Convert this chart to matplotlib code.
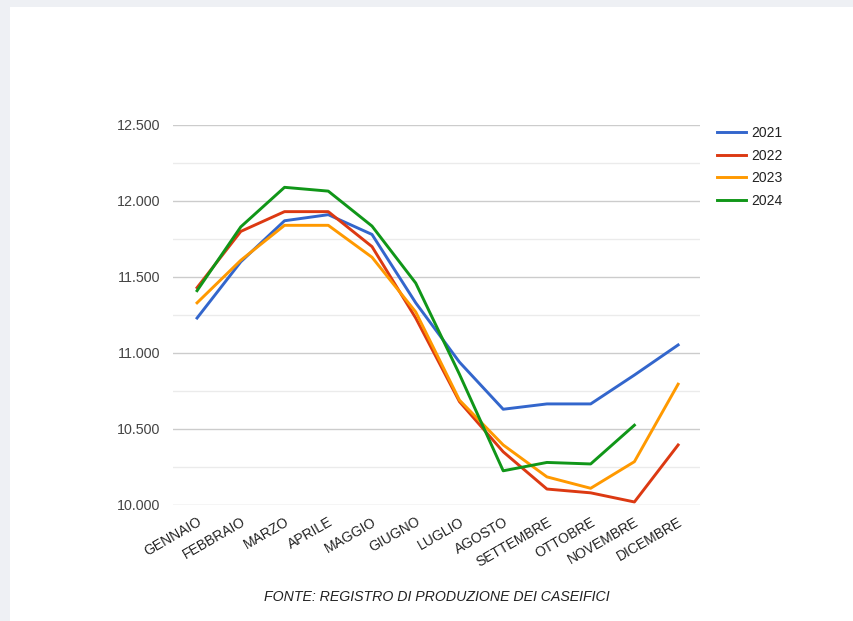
import matplotlib.pyplot as plt
from matplotlib.ticker import FuncFormatter, MultipleLocator
import numpy as np

months = ["GENNAIO", "FEBBRAIO", "MARZO", "APRILE", "MAGGIO", "GIUGNO",
          "LUGLIO", "AGOSTO", "SETTEMBRE", "OTTOBRE", "NOVEMBRE", "DICEMBRE"]

y2021 = [11230, 11600, 11870, 11910, 11780, 11330, 10940, 10630, 10665, 10665, 10855, 11053]
y2022 = [11430, 11800, 11930, 11930, 11700, 11230, 10680, 10350, 10105, 10080, 10020, 10395]
y2023 = [11330, 11610, 11840, 11840, 11630, 11270, 10690, 10395, 10185, 10110, 10285, 10795]
y2024 = [11410, 11830, 12090, 12065, 11835, 11460, 10860, 10225, 10280, 10270, 10525, np.nan]

series = {"2021": y2021, "2022": y2022, "2023": y2023, "2024": y2024}
colors = {"2021": "#3366cc", "2022": "#dc3912", "2023": "#ff9900", "2024": "#109618"}

plt.rcParams["font.family"] = ["Liberation Sans", "DejaVu Sans"]

fig = plt.figure(figsize=(8.54, 6.21), dpi=100)
fig.patch.set_facecolor("#eef0f4")
# white card behind everything
card = plt.Rectangle((10 / 854, 0), 1, 1 - 7 / 621, transform=fig.transFigure,
                     facecolor="white", edgecolor="none", zorder=-10)
fig.patches.append(card)

ax = fig.add_axes([173 / 854, 1 - 505 / 621, (700 - 173) / 854, (505 - 125) / 621])
ax.set_zorder(1)
ax.set_facecolor("none")

x = np.arange(len(months))
for name, vals in series.items():
    ax.plot(x, vals, color=colors[name], lw=2.1, label=name, solid_joinstyle="round")

ax.set_xlim(-0.55, 11.5)
ax.set_ylim(10000, 12500)
ax.yaxis.set_major_locator(MultipleLocator(500))
ax.yaxis.set_minor_locator(MultipleLocator(250))
ax.yaxis.set_major_formatter(FuncFormatter(lambda v, p: f"{int(v):,}".replace(",", ".")))
ax.grid(axis="y", which="major", color="#cccccc", lw=1)
ax.grid(axis="y", which="minor", color="#ebebeb", lw=1)
ax.set_axisbelow(True)
for s in ax.spines.values():
    s.set_visible(False)
ax.tick_params(axis="y", which="both", length=0, pad=9, labelsize=10.3, labelcolor="#444444")
ax.set_xticks(x)
ax.set_xticklabels(months, rotation=30, ha="right", rotation_mode="anchor",
                   fontsize=10, color="#222222")
ax.tick_params(axis="x", length=0, pad=7)

leg = ax.legend(loc="upper left", bbox_to_anchor=(1.0085, 1.03), frameon=False,
                fontsize=10, handlelength=2.1, labelspacing=0.62, handletextpad=0.4)
for t in leg.get_texts():
    t.set_color("#222222")

fig.text(437 / 854, 1 - 597 / 621, "FONTE: REGISTRO DI PRODUZIONE DEI CASEIFICI",
         ha="center", va="center", fontsize=10.2, style="italic", color="#222222")

fig.savefig("out.png", dpi=100, facecolor=fig.get_facecolor())
